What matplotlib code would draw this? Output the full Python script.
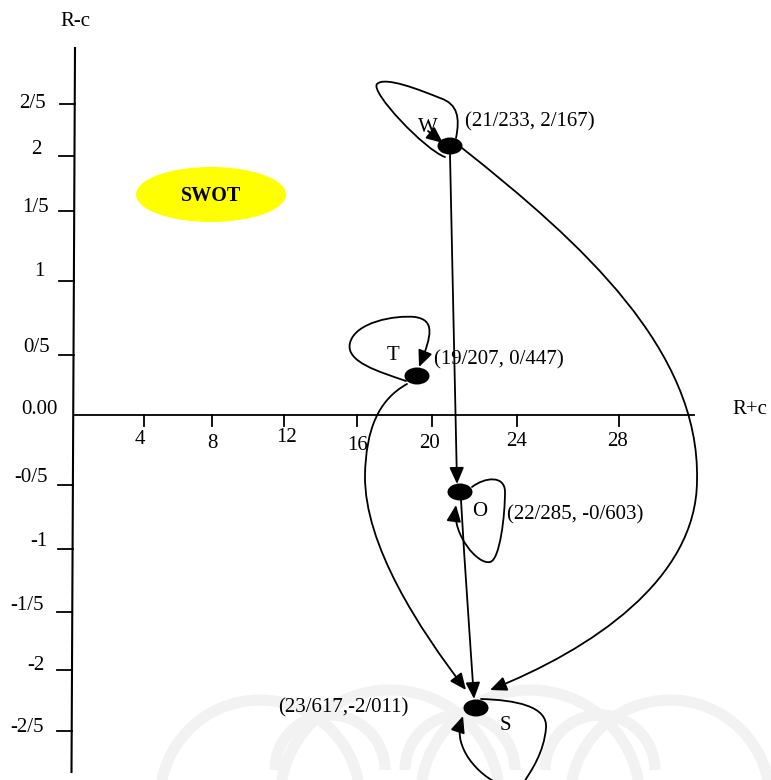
import matplotlib.pyplot as plt
from matplotlib.patches import Ellipse, FancyArrowPatch, Arc
from matplotlib.path import Path

plt.rcParams['font.family'] = ['Liberation Serif', 'DejaVu Serif']

# axis ticks (picture pixels) and their labels
y_tick_pos = [104, 156, 211, 281, 355, 415, 485, 549, 612, 670, 731]
y_tick_labels = ['2/5', '2', '1/5', '1', '0/5', '0.00', '-0/5', '-1', '-1/5', '-2', '-2/5']
y_label_x = [32, 36, 35, 39, 37, 39, 31, 39, 27, 36, 27]
y_label_y = [103, 150, 207, 272, 348, 409, 477, 542, 605, 665, 727]
x_tick_pos = [144, 212, 284, 357, 432, 517, 619]
x_tick_labels = ['4', '8', '12', '16', '20', '24', '28']
x_label_x = [140, 212, 287, 358, 430, 517, 617]
x_label_y = [440, 443, 437, 445, 443, 441, 441]

# strategy points
node_names = ['W', 'T', 'O', 'S']
node_xy = [(450, 146), (417, 376), (460, 492), (476, 708)]
node_label_xy = [(428, 128), (393, 355), (480, 512), (505, 725)]
coord_labels = ['(21/233, 2/167)', '(19/207, 0/447)', '(22/285, -0/603)', '(23/617,-2/011)']
coord_xy = [(465, 122), (434, 360), (507, 515), (278, 708)]

# edges between points, as cubic bezier control points
edges = {
    'W-O': [(450, 154), (452, 260), (455, 380), (457, 484)],
    'O-S': [(461, 500), (465, 570), (470, 640), (474, 699)],
    'W-S': [(462, 148), (582, 243), (700, 350), (697, 480),
            (697, 580), (590, 650), (490, 690)],
    'T-S': [(407, 384), (378, 400), (366, 430), (365, 475),
            (364, 545), (420, 630), (466, 690)],
    'T-T': [(406, 381), (380, 372), (345, 362), (350, 343),
            (355, 322), (395, 315), (415, 317),
            (435, 320), (432, 335), (419, 367)],
    'O-O': [(472, 487), (485, 477), (505, 475), (505, 492),
            (505, 515), (500, 560), (490, 562),
            (478, 565), (452, 535), (456, 505)],
    'S-S': [(481, 699), (515, 700), (548, 706), (546, 728),
            (544, 752), (532, 770), (522, 785),
            (505, 795), (470, 770), (462, 745),
            (458, 735), (460, 725), (463, 716)],
}
w_loop = [(456, 138), (460, 118), (458, 104), (440, 98),
          (420, 90), (385, 76), (377, 84),
          (370, 92), (425, 150), (445, 157)]
w_loop_arrow = [(428, 131), (443, 143)]

# faint background watermark arcs (centre x, centre y, diameter)
wm_arcs = [(260, 800, 200), (390, 800, 220), (530, 800, 220), (670, 800, 200),
           (330, 770, 110), (460, 770, 110), (600, 770, 110)]

fig = plt.figure(figsize=(7.71, 7.80), dpi=100)
ax = fig.add_axes([0, 0, 1, 1])
ax.set_xlim(0, 771)
ax.set_ylim(780, 0)
ax.axis('off')

for cx, cy, d in wm_arcs:
    ax.add_patch(Arc((cx, cy), d, d, theta1=180, theta2=360, color='#f2f2f2',
                     lw=8, zorder=0))

fs = 15

# y axis (slightly slanted) and its ticks
ax.plot([75, 71.5], [48, 772], color='black', lw=1.5)
for yp, lab, lx, ly in zip(y_tick_pos, y_tick_labels, y_label_x, y_label_y):
    xa = 75 - 3.5 * (yp - 48) / 724
    if lab != '0.00':
        ax.plot([xa - 15, xa], [yp, yp], color='black', lw=1.3)
    ax.text(lx, ly, lab, ha='center', va='center', fontsize=fs)
ax.text(75, 22, 'R-c', ha='center', va='center', fontsize=fs)

# x axis
ax.plot([74, 694], [415, 415], color='black', lw=1.3)
for xp, lab, lx, ly in zip(x_tick_pos, x_tick_labels, x_label_x, x_label_y):
    ax.plot([xp, xp], [415, 426], color='black', lw=1.3)
    ax.text(lx, ly, lab, ha='center', va='center', fontsize=fs)
ax.text(750, 409, 'R+c', ha='center', va='center', fontsize=fs)

# SWOT badge
ax.add_patch(Ellipse((211, 194.5), 150, 55, facecolor='yellow', edgecolor='none'))
ax.text(211, 196, 'SWOT', ha='center', va='center', fontsize=14.5, fontweight='bold')

astyle = '-|>,head_length=0.5,head_width=0.22'


def bezier(pts):
    codes = [Path.MOVETO] + [Path.CURVE4] * (len(pts) - 1)
    return Path(pts, codes)


for name, pts in edges.items():
    ax.add_patch(FancyArrowPatch(path=bezier(pts), arrowstyle=astyle,
                                 mutation_scale=20, color='black', lw=1.3))

ax.add_patch(FancyArrowPatch(path=bezier(w_loop), arrowstyle='-',
                             color='black', lw=1.3))
ax.add_patch(FancyArrowPatch(w_loop_arrow[0], w_loop_arrow[1], arrowstyle=astyle,
                             mutation_scale=20, color='black', lw=1.3,
                             shrinkA=0, shrinkB=0))

for (nx, ny), name, (lx, ly), clab, (cx, cy) in zip(node_xy, node_names, node_label_xy,
                                                     coord_labels, coord_xy):
    ax.add_patch(Ellipse((nx, ny), 25, 17, facecolor='black', edgecolor='none', zorder=5))
    ax.text(lx, ly, name, ha='center', va='center', fontsize=fs, zorder=6)
    ax.text(cx, cy, clab, ha='left', va='center', fontsize=fs)

fig.savefig('out.png', dpi=100)
